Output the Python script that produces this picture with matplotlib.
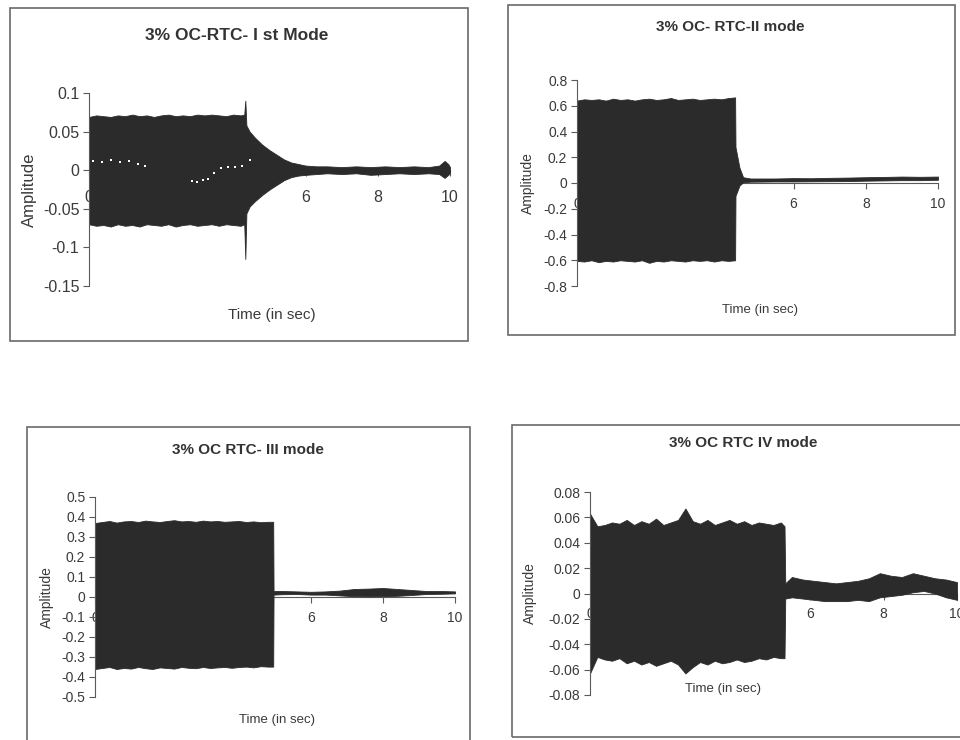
import matplotlib.pyplot as plt
from matplotlib.patches import Rectangle

plt.rcParams['font.family'] = ['Liberation Sans', 'DejaVu Sans']

W, H = 960, 740

# ---- panel 1 : I st mode (envelope of the signal)
p1_time = [0, 0.2, 0.4, 0.6, 0.8, 1.0, 1.2, 1.4, 1.6, 1.8, 2.0, 2.2, 2.4, 2.6, 2.8, 3.0, 3.2, 3.4, 3.6, 3.8, 4.0, 4.2,
           4.3, 4.33, 4.36, 4.45, 4.6, 4.8, 5.0, 5.2, 5.4, 5.6, 5.8, 6.0,
           6.3, 6.6, 7.0, 7.4, 7.8, 8.2, 8.6, 9.0, 9.4, 9.7, 9.85, 9.95, 10.0]
p1_upper = [0.069, 0.071, 0.070, 0.069, 0.071, 0.070, 0.072, 0.070, 0.071, 0.069, 0.071, 0.072, 0.070, 0.071, 0.070,
            0.072, 0.071, 0.072, 0.071, 0.070, 0.072, 0.071,
            0.072, 0.090, 0.058, 0.050, 0.042, 0.033, 0.026, 0.020, 0.014, 0.010, 0.008, 0.006,
            0.005, 0.005, 0.004, 0.005, 0.004, 0.005, 0.004, 0.005, 0.004, 0.006, 0.012, 0.008, 0.004]
p1_lower = [-0.070, -0.072, -0.071, -0.073, -0.070, -0.072, -0.071, -0.073, -0.070, -0.071, -0.072, -0.070, -0.073,
            -0.071, -0.070, -0.072, -0.071, -0.070, -0.072, -0.070, -0.071, -0.072,
            -0.070, -0.115, -0.056, -0.047, -0.040, -0.032, -0.025, -0.019, -0.013, -0.009, -0.007, -0.006,
            -0.005, -0.004, -0.005, -0.004, -0.006, -0.005, -0.004, -0.005, -0.004, -0.005, -0.010, -0.006, -0.003]
# white gaps visible inside the dark band
p1_gap_t = [0.1, 0.35, 0.6, 0.85, 1.1, 1.35, 1.55, 2.85, 3.0, 3.15, 3.3, 3.45, 3.65, 3.85, 4.05, 4.25, 4.45]
p1_gap_y = [0.012, 0.011, 0.013, 0.010, 0.012, 0.008, 0.006, -0.014, -0.015, -0.013, -0.012, -0.004, 0.003, 0.004,
            0.004, 0.006, 0.013]

# ---- panel 2 : II mode
p2_time = [0, 0.2, 0.4, 0.6, 0.8, 1.0, 1.2, 1.4, 1.6, 1.8, 2.0, 2.2, 2.4, 2.6, 2.8, 3.0, 3.2, 3.4, 3.6, 3.8, 4.0, 4.2,
           4.38, 4.39, 4.5, 4.6, 4.8, 5.5, 6.0, 6.5, 7.0, 7.5, 8.0, 8.5, 9.0, 9.5, 10.0]
p2_upper = [0.64, 0.65, 0.645, 0.65, 0.64, 0.655, 0.645, 0.65, 0.64, 0.65, 0.655, 0.645, 0.65, 0.66, 0.645, 0.65,
            0.655, 0.645, 0.65, 0.655, 0.65, 0.66,
            0.665, 0.28, 0.12, 0.045, 0.035, 0.035, 0.038, 0.037, 0.040, 0.042, 0.045, 0.047, 0.050, 0.048, 0.050]
p2_lower = [-0.605, -0.61, -0.60, -0.615, -0.605, -0.61, -0.60, -0.605, -0.61, -0.60, -0.62, -0.605, -0.61, -0.60,
            -0.605, -0.61, -0.60, -0.605, -0.60, -0.61, -0.60, -0.605,
            -0.60, -0.10, -0.02, 0.005, 0.010, 0.012, 0.012, 0.013, 0.014, 0.015, 0.018, 0.020, 0.022, 0.022, 0.025]

# ---- panel 3 : III mode
p3_time = [0, 0.2, 0.4, 0.6, 0.8, 1.0, 1.2, 1.4, 1.6, 1.8, 2.0, 2.2, 2.4, 2.6, 2.8, 3.0, 3.2, 3.4, 3.6, 3.8, 4.0, 4.2,
           4.4, 4.6, 4.8, 4.95, 4.96, 5.2, 5.6, 6.0, 6.4, 6.8, 7.2, 7.6, 8.0, 8.4, 8.8, 9.2, 9.6, 10.0]
p3_upper = [0.37, 0.375, 0.38, 0.372, 0.378, 0.38, 0.375, 0.382, 0.378, 0.375, 0.38, 0.384, 0.378, 0.38, 0.376,
            0.382, 0.378, 0.38, 0.376, 0.378, 0.38, 0.375, 0.378, 0.374, 0.376,
            0.376, 0.030, 0.030, 0.028, 0.026, 0.028, 0.032, 0.040, 0.042, 0.045, 0.040, 0.035, 0.030, 0.030, 0.028]
p3_lower = [-0.36, -0.355, -0.35, -0.36, -0.355, -0.358, -0.35, -0.356, -0.36, -0.352, -0.355, -0.358, -0.35,
            -0.354, -0.356, -0.35, -0.355, -0.352, -0.35, -0.354, -0.35, -0.348, -0.352, -0.346, -0.348,
            -0.348, 0.012, 0.014, 0.015, 0.012, 0.012, 0.008, 0.004, 0.003, 0.004, 0.006, 0.010, 0.015, 0.016, 0.018]

# ---- panel 4 : IV mode
p4_time = [0, 0.2, 0.4, 0.6, 0.8, 1.0, 1.2, 1.4, 1.6, 1.8, 2.0, 2.2, 2.4, 2.6, 2.8, 3.0, 3.2, 3.4, 3.6, 3.8, 4.0,
           4.2, 4.4, 4.6, 4.8, 5.0, 5.2, 5.3, 5.32,
           5.5, 5.8, 6.1, 6.4, 6.7, 7.0, 7.3, 7.6, 7.9, 8.2, 8.5, 8.8, 9.1, 9.4, 9.7, 10.0]
p4_upper = [0.063, 0.053, 0.054, 0.056, 0.055, 0.058, 0.054, 0.057, 0.055, 0.059, 0.054, 0.056, 0.058, 0.067,
            0.057, 0.055, 0.058, 0.054, 0.056, 0.058, 0.055, 0.057, 0.054, 0.056, 0.055, 0.054, 0.056,
            0.053, 0.008,
            0.013, 0.011, 0.010, 0.009, 0.008, 0.009, 0.010, 0.012, 0.016, 0.014, 0.013, 0.016, 0.014, 0.012,
            0.011, 0.009]
p4_lower = [-0.063, -0.050, -0.052, -0.053, -0.051, -0.055, -0.053, -0.056, -0.054, -0.057, -0.055, -0.053,
            -0.056, -0.063, -0.058, -0.054, -0.056, -0.053, -0.055, -0.054, -0.052, -0.054, -0.053, -0.051,
            -0.052, -0.050, -0.051,
            -0.051, -0.004,
            -0.003, -0.004, -0.005, -0.006, -0.006, -0.006, -0.005, -0.006, -0.003, -0.002, -0.001, 0.001,
            0.002, 0.000, -0.003, -0.005]

x_ticks = [0, 2, 4, 6, 8, 10]
p1_yticks = [0.1, 0.05, 0, -0.05, -0.1, -0.15]
p2_yticks = [0.8, 0.6, 0.4, 0.2, 0, -0.2, -0.4, -0.6, -0.8]
p3_yticks = [0.5, 0.4, 0.3, 0.2, 0.1, 0, -0.1, -0.2, -0.3, -0.4, -0.5]
p4_yticks = [0.08, 0.06, 0.04, 0.02, 0, -0.02, -0.04, -0.06, -0.08]

titles = ['3% OC-RTC- I st Mode', '3% OC- RTC-II mode', '3% OC RTC- III mode', '3% OC RTC IV mode']

INK = '#2b2b2b'
TXT = '#3a3a3a'
AX = '#5a5a5a'


def fbox(l, t, r, b):
    return [l / W, 1 - b / H, (r - l) / W, (b - t) / H]


def label(v):
    s = ('%g' % v)
    return s


fig = plt.figure(figsize=(9.6, 7.4), dpi=100)

# chart frames (pixel boxes)
for l, t, r, b in [(10, 8, 468, 341), (508, 5, 955, 335), (27, 427, 470, 742), (512, 425, 965, 737)]:
    fig.add_artist(Rectangle((l / W, 1 - b / H), (r - l) / W, (b - t) / H, transform=fig.transFigure,
                             fill=False, edgecolor='#6a6a6a', lw=1.2))

panels = [
    dict(box=(89, 93, 450, 286), t=p1_time, up=p1_upper, lo=p1_lower, yt=p1_yticks, ylim=(-0.15, 0.1),
         fs=11.5, tfs=12.5, title_xy=(237, 36), yl_x=29, xl_xy=(272, 315), ylfs=12, xpad=10),
    dict(box=(577, 80, 938, 286), t=p2_time, up=p2_upper, lo=p2_lower, yt=p2_yticks, ylim=(-0.8, 0.8),
         fs=10, tfs=11, title_xy=(730, 27), yl_x=528, xl_xy=(760, 310), ylfs=10, xpad=6),
    dict(box=(95, 497, 455, 697), t=p3_time, up=p3_upper, lo=p3_lower, yt=p3_yticks, ylim=(-0.5, 0.5),
         fs=10, tfs=11, title_xy=(248, 450), yl_x=47, xl_xy=(277, 720), ylfs=10, xpad=6),
    dict(box=(590, 492, 957, 695), t=p4_time, up=p4_upper, lo=p4_lower, yt=p4_yticks, ylim=(-0.08, 0.08),
         fs=10, tfs=11, title_xy=(743, 443), yl_x=530, xl_xy=(723, 689), ylfs=10, xpad=6),
]

for i, p in enumerate(panels):
    ax = fig.add_axes(fbox(*p['box']))
    ax.fill_between(p['t'], p['lo'], p['up'], color=INK, lw=0.6, edgecolor=INK, zorder=3)
    if i == 0:
        ax.plot(p1_gap_t, p1_gap_y, ls='none', marker='s', ms=1.6, color='white', mew=0, zorder=4)
    ax.set_xlim(0, 10)
    ax.set_ylim(*p['ylim'])
    ax.set_xticks(x_ticks)
    ax.set_xticklabels([label(v) for v in x_ticks])
    ax.set_yticks(p['yt'])
    ax.set_yticklabels([label(v) for v in p['yt']])
    for s in ['top', 'right']:
        ax.spines[s].set_visible(False)
    ax.spines['bottom'].set_position(('data', 0))
    ax.spines['bottom'].set_color(AX)
    ax.spines['left'].set_color(AX)
    ax.spines['left'].set_zorder(5)
    ax.tick_params(axis='both', direction='out', length=4, width=0.8, color=AX, labelcolor=TXT,
                   labelsize=p['fs'], pad=3)
    ax.tick_params(axis='x', pad=p['xpad'])
    ax.patch.set_visible(False)

    fig.text(p['title_xy'][0] / W, 1 - p['title_xy'][1] / H, titles[i], ha='center', va='center',
             fontsize=p['tfs'], fontweight='bold', color='#333333')
    fig.text(p['yl_x'] / W, 1 - ((p['box'][1] + p['box'][3]) / 2) / H, 'Amplitude', rotation=90,
             ha='center', va='center', fontsize=p['ylfs'], color=TXT)
    fig.text(p['xl_xy'][0] / W, 1 - p['xl_xy'][1] / H, 'Time (in sec)', ha='center', va='center',
             fontsize=p['fs'] - 0.5, color=TXT)

plt.savefig('out.png', dpi=100)
